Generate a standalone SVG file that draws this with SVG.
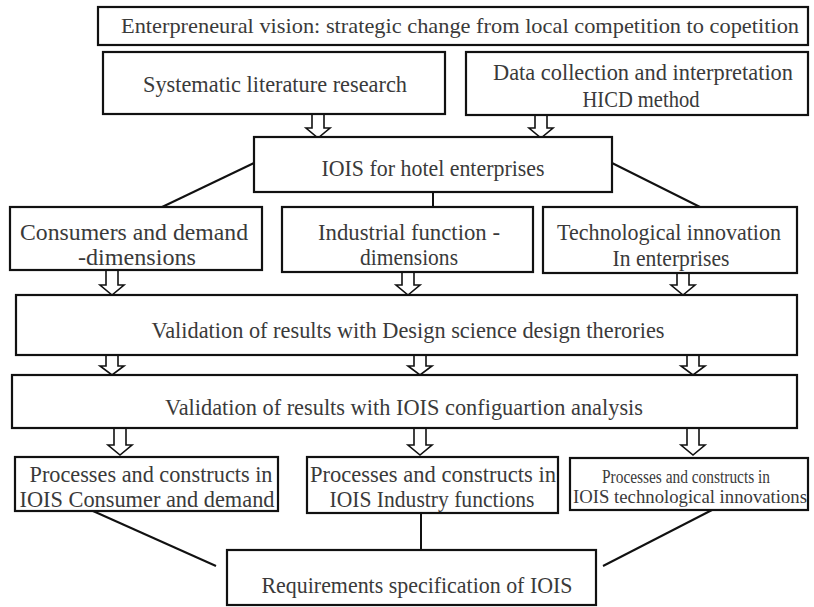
<svg xmlns="http://www.w3.org/2000/svg" width="814" height="607" viewBox="0 0 814 607">
  <style>
    .box { fill: #ffffff; stroke: #111111; stroke-width: 2.2; }
    .lbl { font-family: "Liberation Serif", "Times New Roman", serif; font-size: 23px; fill: #3a3a3a; text-anchor: middle; }
    .sm { font-size: 18px; }
    .top { font-size: 21px; }
    .link { stroke: #111111; stroke-width: 2; fill: none; }
    .harrow { fill: #ffffff; stroke: #111111; stroke-width: 1.6; stroke-linejoin: miter; }
  </style>
  <rect width="814" height="607" fill="#ffffff"/>

  <!-- connectors: plain lines and hollow block arrows -->
  <g id="connectors">
    <line class="link" x1="254" y1="163" x2="160" y2="208"/>
    <line class="link" x1="433" y1="192" x2="433" y2="208"/>
    <line class="link" x1="612" y1="163" x2="702" y2="208"/>
    <line class="link" x1="93" y1="511" x2="216" y2="566"/>
    <line class="link" x1="421" y1="513" x2="421" y2="551"/>
    <line class="link" x1="712" y1="510" x2="603" y2="566"/>

    <path class="harrow" d="M312,114 V128 H306 L318,138 L330,128 H324 V114 Z"/>
    <path class="harrow" d="M535,115 V128 H529 L541,138 L553,128 H547 V115 Z"/>

    <path class="harrow" d="M106,270 V285 H100 L112,295 L124,285 H118 V270 Z"/>
    <path class="harrow" d="M402,272 V285 H396 L408,295 L420,285 H414 V272 Z"/>
    <path class="harrow" d="M677,273 V285 H671 L683,295 L695,285 H689 V273 Z"/>

    <path class="harrow" d="M106,355 V366 H100 L112,375 L124,366 H118 V355 Z"/>
    <path class="harrow" d="M414,355 V366 H408 L420,375 L432,366 H426 V355 Z"/>
    <path class="harrow" d="M687,355 V366 H681 L693,375 L705,366 H699 V355 Z"/>

    <path class="harrow" d="M114,428 V445 H108 L120,455 L132,445 H126 V428 Z"/>
    <path class="harrow" d="M414,428 V445 H408 L420,455 L432,445 H426 V428 Z"/>
    <path class="harrow" d="M687,428 V445 H681 L693,455 L705,445 H699 V428 Z"/>
  </g>

  <g id="vision">
    <rect class="box" x="98" y="7" width="710" height="38"/>
    <text class="lbl top" x="460" y="33" textLength="678" lengthAdjust="spacingAndGlyphs">Enterpreneural vision: strategic change from local competition to copetition</text>
  </g>

  <g id="literature">
    <rect class="box" x="103" y="52" width="342" height="62"/>
    <text class="lbl" x="275" y="92" textLength="264" lengthAdjust="spacingAndGlyphs">Systematic literature research</text>
  </g>

  <g id="data-collection">
    <rect class="box" x="466" y="52" width="342" height="63"/>
    <text class="lbl" x="643" y="80" textLength="300" lengthAdjust="spacingAndGlyphs">Data collection and interpretation</text>
    <text class="lbl" x="641" y="107" textLength="117" lengthAdjust="spacingAndGlyphs">HICD method</text>
  </g>

  <g id="iois-hotel">
    <rect class="box" x="254" y="137" width="358" height="55"/>
    <text class="lbl" x="433" y="176" textLength="223" lengthAdjust="spacingAndGlyphs">IOIS for hotel enterprises</text>
  </g>

  <g id="consumers">
    <rect class="box" x="10" y="207" width="252" height="63"/>
    <text class="lbl" x="134" y="240" textLength="228" lengthAdjust="spacingAndGlyphs">Consumers and demand</text>
    <text class="lbl" x="137" y="265" textLength="118" lengthAdjust="spacingAndGlyphs">-dimensions</text>
  </g>

  <g id="industrial">
    <rect class="box" x="282" y="207" width="251" height="65"/>
    <text class="lbl" x="409" y="240" textLength="182" lengthAdjust="spacingAndGlyphs">Industrial function -</text>
    <text class="lbl" x="409" y="265" textLength="98" lengthAdjust="spacingAndGlyphs">dimensions</text>
  </g>

  <g id="technological">
    <rect class="box" x="543" y="207" width="254" height="66"/>
    <text class="lbl" x="669" y="240" textLength="224" lengthAdjust="spacingAndGlyphs">Technological innovation</text>
    <text class="lbl" x="671" y="266" textLength="117" lengthAdjust="spacingAndGlyphs">In enterprises</text>
  </g>

  <g id="validation-design">
    <rect class="box" x="16" y="295" width="781" height="60"/>
    <text class="lbl" x="408" y="338" textLength="513" lengthAdjust="spacingAndGlyphs">Validation of results with Design science design therories</text>
  </g>

  <g id="validation-config">
    <rect class="box" x="12" y="375" width="785" height="53"/>
    <text class="lbl" x="404" y="415" textLength="478" lengthAdjust="spacingAndGlyphs">Validation of results with IOIS configuartion analysis</text>
  </g>

  <g id="proc-consumer">
    <rect class="box" x="15" y="457" width="263" height="54"/>
    <text class="lbl" x="151" y="482" textLength="243" lengthAdjust="spacingAndGlyphs">Processes and constructs in</text>
    <text class="lbl" x="147" y="507" textLength="255" lengthAdjust="spacingAndGlyphs">IOIS Consumer and demand</text>
  </g>

  <g id="proc-industry">
    <rect class="box" x="307" y="457" width="251" height="56"/>
    <text class="lbl" x="433" y="482" textLength="246" lengthAdjust="spacingAndGlyphs">Processes and constructs in</text>
    <text class="lbl" x="432" y="507" textLength="205" lengthAdjust="spacingAndGlyphs">IOIS Industry functions</text>
  </g>

  <g id="proc-tech">
    <rect class="box" x="570" y="458" width="238" height="52"/>
    <text class="lbl sm" x="686" y="483" textLength="168" lengthAdjust="spacingAndGlyphs">Processes and constructs in</text>
    <text class="lbl sm" x="690" y="503" textLength="234" lengthAdjust="spacingAndGlyphs">IOIS technological innovations</text>
  </g>

  <g id="requirements">
    <rect class="box" x="227" y="550" width="369" height="55"/>
    <text class="lbl" x="417" y="593" textLength="311" lengthAdjust="spacingAndGlyphs">Requirements specification of IOIS</text>
  </g>
</svg>
